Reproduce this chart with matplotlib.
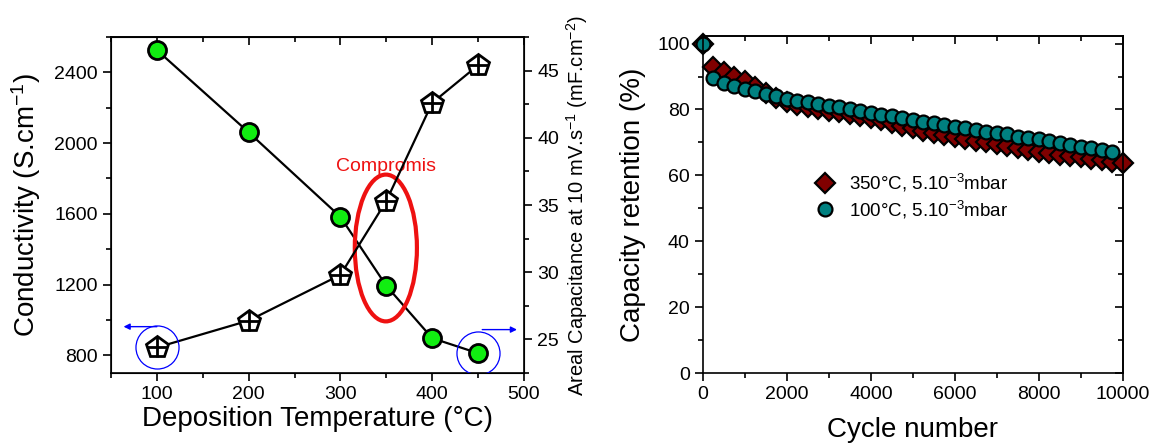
import matplotlib
matplotlib.use('Agg')
import matplotlib.pyplot as plt
from matplotlib.patches import Ellipse
from matplotlib.ticker import MultipleLocator, NullFormatter
from matplotlib.transforms import offset_copy

plt.rcParams['font.family'] = ['Liberation Sans', 'DejaVu Sans']
plt.rcParams['mathtext.fontset'] = 'custom'
plt.rcParams['mathtext.rm'] = 'Liberation Sans'
plt.rcParams['mathtext.it'] = 'Liberation Sans:italic'

# Left panel data
temps = [100, 200, 300, 350, 400, 450]
conductivity = [2526, 2061, 1583, 1193, 897, 812]
capacitance = [24.4, 26.4, 29.8, 35.3, 42.6, 45.4]

# Right panel data
cycles_350 = [0, 250, 500, 750, 1000, 1250, 1500, 1750, 2000, 2250, 2500,
              2750, 3000, 3250, 3500, 3750, 4000, 4250, 4500, 4750, 5000,
              5250, 5500, 5750, 6000, 6250, 6500, 6750, 7000, 7250, 7500,
              7750, 8000, 8250, 8500, 8750, 9000, 9250, 9500, 9750, 10000]
retention_350 = [100, 93.0, 91.3, 90.0, 88.5, 86.9, 85.0, 83.6, 82.4, 81.4, 80.6,
                 80.0, 79.5, 79.1, 78.6, 78.0, 77.4, 76.7, 75.9, 75.1, 74.3,
                 73.5, 72.8, 72.2, 71.6, 71.0, 70.5, 70.0, 69.5, 69.0, 68.4,
                 67.8, 67.2, 66.8, 66.3, 65.9, 65.5, 65.0, 64.6, 64.1, 63.7]
cycles_100 = cycles_350[:-1]
retention_100 = [100, 89.6, 88.0, 87.0, 86.2, 85.5, 84.8, 84.0, 83.3, 82.7, 82.2,
                 81.6, 81.1, 80.7, 80.2, 79.6, 78.9, 78.3, 77.9, 77.3, 76.8,
                 76.3, 75.8, 75.3, 74.8, 74.3, 73.8, 73.3, 72.8, 72.5, 71.7,
                 71.3, 70.9, 70.4, 69.9, 69.3, 68.7, 68.2, 67.7, 67.1]

fig = plt.figure(figsize=(11.6, 4.47), dpi=100)

# ---------- left panel ----------
ax1 = fig.add_axes([0.0957, 0.1655, 0.356, 0.7517])
ax2 = ax1.twinx()

ax1.plot(temps, conductivity, color='black', lw=1.6, zorder=2)
ax1.plot(temps, conductivity, 'o', ms=13, mfc='#11ee11', mec='black', mew=2, zorder=3)

ax2.plot(temps, capacitance, color='black', lw=1.6, zorder=2)
ax2.plot(temps, capacitance, 'p', ms=16, mfc='white', mec='black', mew=2, zorder=3)
ax2.plot(temps, capacitance, '+', ms=15, mec='black', mew=2, zorder=4)

ax1.set_xlim(50, 500)
ax1.set_ylim(700, 2600)
ax2.set_ylim(22.5, 47.5)

ax1.xaxis.set_major_locator(MultipleLocator(100))
ax1.xaxis.set_minor_locator(MultipleLocator(50))
ax1.yaxis.set_major_locator(MultipleLocator(400))
ax1.yaxis.set_minor_locator(MultipleLocator(200))
ax2.yaxis.set_major_locator(MultipleLocator(5))
ax2.yaxis.set_minor_locator(MultipleLocator(2.5))

ax1.tick_params(axis='both', which='major', labelsize=14, length=6, width=1.2, direction='out')
ax1.tick_params(axis='both', which='minor', length=3.5, width=1.2, direction='out')
ax2.tick_params(axis='y', which='major', labelsize=14, length=6, width=1.2, direction='out')
ax2.tick_params(axis='y', which='minor', length=3.5, width=1.2, direction='out')
for sp in ax1.spines.values():
    sp.set_linewidth(1.2)

# top axis of left panel: inward ticks, no labels
top1 = ax1.secondary_xaxis('top')
top1.xaxis.set_major_locator(MultipleLocator(100))
top1.xaxis.set_minor_locator(MultipleLocator(50))
top1.xaxis.set_major_formatter(NullFormatter())
top1.tick_params(which='major', length=6, width=1.2, direction='in')
top1.tick_params(which='minor', length=3.5, width=1.2, direction='in')
top1.spines['top'].set_linewidth(1.2)

ax1.set_xlabel('Deposition Temperature (°C)', fontsize=20, labelpad=2)
ax1.set_ylabel('Conductivity (S.cm$^{-1}$)', fontsize=20, labelpad=8)
ax2.set_ylabel('Areal Capacitance at 10 mV.s$^{-1}$ (mF.cm$^{-2}$)', fontsize=14.5, labelpad=4)

# annotations: compromise ellipse, axis-marker circles and arrows
ax1.add_patch(Ellipse((349.5, 1407), 67.7, 830, fill=False, ec='#ee1111', lw=3, zorder=5))
ax1.text(350, 1870, 'Compromis', color='#ee1111', fontsize=14, ha='center', va='center')

ax2.plot(temps[0], capacitance[0], 'o', ms=31, mfc='none', mec='blue', mew=0.9, zorder=6)
ax1.plot(temps[-1], conductivity[-1], 'o', ms=31, mfc='none', mec='blue', mew=0.9, zorder=6)

arrow_kw = dict(arrowstyle='-|>', color='blue', lw=1, mutation_scale=9, shrinkA=0, shrinkB=0)
ax2.annotate('', xy=(temps[0], capacitance[0]), xytext=(temps[0], capacitance[0]),
             xycoords=offset_copy(ax2.transData, fig=fig, x=-24, y=15, units='points'),
             textcoords=offset_copy(ax2.transData, fig=fig, x=0, y=15, units='points'),
             arrowprops=arrow_kw, annotation_clip=False)
ax1.annotate('', xy=(temps[-1], conductivity[-1]), xytext=(temps[-1], conductivity[-1]),
             xycoords=offset_copy(ax1.transData, fig=fig, x=28, y=17, units='points'),
             textcoords=offset_copy(ax1.transData, fig=fig, x=3, y=17, units='points'),
             arrowprops=arrow_kw, annotation_clip=False)

# ---------- right panel ----------
ax3 = fig.add_axes([0.606, 0.1655, 0.362, 0.754])
ax3.plot(cycles_350, retention_350, 'D', ms=10.5, mfc='#800000', mec='black', mew=1.6,
         label='350°C, 5.10$^{-3}$mbar', clip_on=False)
ax3.plot(cycles_100, retention_100, 'o', ms=10, mfc='#008080', mec='black', mew=1.6,
         label='100°C, 5.10$^{-3}$mbar', clip_on=False)

ax3.set_xlim(0, 10000)
ax3.set_ylim(0, 102.3)
ax3.xaxis.set_major_locator(MultipleLocator(2000))
ax3.xaxis.set_minor_locator(MultipleLocator(1000))
ax3.yaxis.set_major_locator(MultipleLocator(20))
ax3.yaxis.set_minor_locator(MultipleLocator(10))
ax3.tick_params(axis='both', which='major', labelsize=14, length=6, width=1.2, direction='out')
ax3.tick_params(axis='both', which='minor', length=3.5, width=1.2, direction='out')
for sp in ax3.spines.values():
    sp.set_linewidth(1.2)

top3 = ax3.secondary_xaxis('top')
top3.xaxis.set_major_locator(MultipleLocator(2000))
top3.xaxis.set_minor_locator(MultipleLocator(1000))
top3.xaxis.set_major_formatter(NullFormatter())
top3.tick_params(which='major', length=6, width=1.2, direction='in')
top3.tick_params(which='minor', length=3.5, width=1.2, direction='in')
top3.spines['top'].set_linewidth(1.2)

right3 = ax3.secondary_yaxis('right')
right3.yaxis.set_major_locator(MultipleLocator(20))
right3.yaxis.set_minor_locator(MultipleLocator(10))
right3.yaxis.set_major_formatter(NullFormatter())
right3.tick_params(which='major', length=6, width=1.2, direction='in')
right3.tick_params(which='minor', length=3.5, width=1.2, direction='in')
right3.spines['right'].set_linewidth(1.2)

ax3.set_xlabel('Cycle number', fontsize=20, labelpad=10)
ax3.set_ylabel('Capacity retention (%)', fontsize=20, labelpad=8)

ax3.legend(loc='center left', bbox_to_anchor=(0.245, 0.525), frameon=False, fontsize=13.5,
           handlelength=1.0, handletextpad=0.8, labelspacing=0.25, borderpad=0)

fig.savefig('out.png', dpi=100)
